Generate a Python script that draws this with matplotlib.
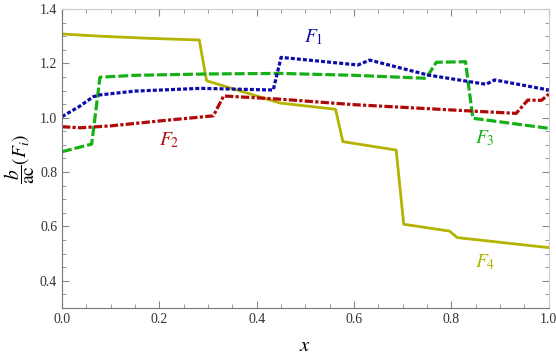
import numpy as np
import matplotlib.pyplot as plt
from matplotlib.ticker import MultipleLocator

plt.rcParams['font.family'] = ['Liberation Serif', 'DejaVu Serif']
plt.rcParams['mathtext.fontset'] = 'stix'

# F1 (blå, prickad)
x1 = [0.0, 0.037, 0.064, 0.078, 0.15, 0.284, 0.434, 0.450, 0.608, 0.632, 0.752, 0.871, 0.889, 1.0]
y1 = [1.004, 1.043, 1.077, 1.084, 1.098, 1.108, 1.102, 1.222, 1.194, 1.212, 1.157, 1.123, 1.139, 1.102]

# F2 (röd, streck-punkt)
x2 = [0.0, 0.037, 0.1, 0.2, 0.311, 0.332, 0.45, 0.6, 0.837, 0.933, 0.957, 0.985, 1.0]
y2 = [0.967, 0.963, 0.970, 0.988, 1.007, 1.080, 1.068, 1.048, 1.025, 1.016, 1.065, 1.064, 1.087]

# F3 (grön, streckad)
x3 = [0.0, 0.061, 0.078, 0.15, 0.3, 0.448, 0.6, 0.748, 0.769, 0.829, 0.844, 1.0]
y3 = [0.875, 0.903, 1.149, 1.156, 1.161, 1.163, 1.156, 1.145, 1.204, 1.206, 0.998, 0.961]

# F4 (olivgul, heldragen)
x4 = [0.0, 0.078, 0.181, 0.282, 0.297, 0.448, 0.562, 0.577, 0.6865, 0.702, 0.796, 0.812, 1.0]
y4 = [1.308, 1.300, 1.292, 1.286, 1.136, 1.054, 1.031, 0.912, 0.881, 0.608, 0.583, 0.559, 0.522]

blue = '#0c0caa'
red = '#b00808'
green = '#14b014'
olive = '#b3b300'

fig = plt.figure(figsize=(5.56, 3.57), dpi=100)
ax = fig.add_axes([0.1115, 0.1373, 0.8755, 0.8375])

ax.plot(x4, y4, color=olive, lw=2.0)
ax.plot(x3, y3, color=green, lw=2.3, dashes=(3.1, 0.95))
ax.plot(x2, y2, color=red, lw=2.3, dashes=(2.6, 0.7, 1.0, 0.7))
ax.plot(x1, y1, color=blue, lw=2.3, dashes=(1.25, 0.65))

ax.text(0.518, 1.297, r'$F_1$', color=blue, fontsize=14, ha='center', va='center')
ax.text(0.22, 0.918, r'$F_2$', color=red, fontsize=14, ha='center', va='center')
ax.text(0.869, 0.925, r'$F_3$', color=green, fontsize=14, ha='center', va='center')
ax.text(0.869, 0.469, r'$F_4$', color=olive, fontsize=14, ha='center', va='center')

ax.set_xlim(0, 1)
ax.set_ylim(0.3, 1.4)
ax.xaxis.set_minor_locator(MultipleLocator(0.05))
ax.yaxis.set_minor_locator(MultipleLocator(0.05))
ax.set_xticks([0.0, 0.2, 0.4, 0.6, 0.8, 1.0])
ax.set_xticklabels(['0.0', '0.2', '0.4', '0.6', '0.8', '1.0'])
ax.set_yticks([0.4, 0.6, 0.8, 1.0, 1.2, 1.4])
ax.set_yticklabels(['0.4', '0.6', '0.8', '1.0', '1.2', '1.4'])

ax.tick_params(which='both', direction='in', top=True, right=True, color='#888888',
               labelsize=10, labelcolor='#333333')
ax.tick_params(which='major', length=5, width=0.8)
ax.tick_params(which='minor', length=3, width=0.6)
for s in ['left', 'bottom']:
    ax.spines[s].set_color('#777777')
for s in ['top', 'right']:
    ax.spines[s].set_color('#cccccc')

ax.set_xlabel(r'$x$', fontsize=15, labelpad=8)
ax.set_ylabel(r'$\dfrac{b}{\mathrm{ac}}(F_i)$', fontsize=14, labelpad=2)

fig.savefig('out.png', dpi=100)
